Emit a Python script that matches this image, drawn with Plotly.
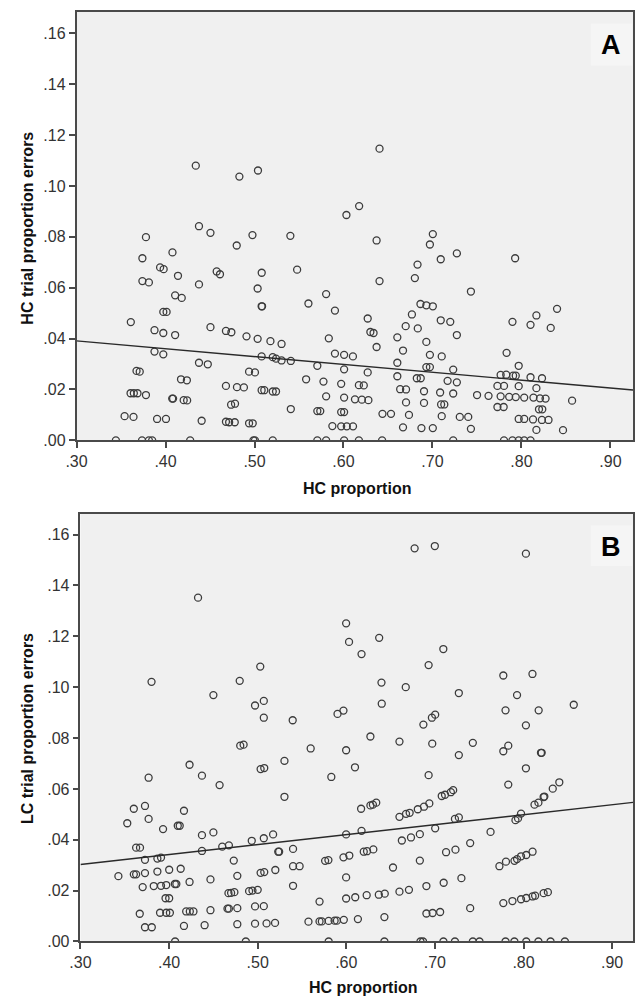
import plotly.graph_objects as go

# ---------------- data ----------------
hc_prop_A = [
    0.434, 0.483, 0.378, 0.4376, 0.4505, 0.480, 0.374, 0.4078, 0.3939, 0.3979, 0.414, 0.4575, 0.4612,
    0.374, 0.3813, 0.4376, 0.4108, 0.4182, 0.3975, 0.4012, 0.361, 0.3876, 0.3975, 0.4108, 0.4505,
    0.4679, 0.474, 0.3876, 0.3975, 0.4376, 0.4475, 0.3674, 0.371, 0.4174, 0.424, 0.3607, 0.3644,
    0.3685, 0.378, 0.4075, 0.4085, 0.4204, 0.4243, 0.4679, 0.4803, 0.4737, 0.4781, 0.354, 0.364,
    0.3905, 0.4005, 0.4406, 0.4679, 0.4715, 0.4778, 0.3442, 0.3736, 0.3813, 0.385, 0.4277,
    0.5039, 0.6405, 0.6176, 0.6033, 0.4977, 0.5403, 0.6372, 0.7004, 0.6971, 0.7093, 0.6832, 0.6802,
    0.5081, 0.5479, 0.6405, 0.5035, 0.5805, 0.7274, 0.7929, 0.7432,
    0.508, 0.5085, 0.5606, 0.5904, 0.6272, 0.6769, 0.6865, 0.6931, 0.7004, 0.7093, 0.72, 0.6699,
    0.6835, 0.6302, 0.6338, 0.6605, 0.491, 0.5035, 0.5179, 0.5304, 0.5835, 0.6372, 0.6931, 0.7104,
    0.6669, 0.6971, 0.5904, 0.6007, 0.6106, 0.508, 0.5205, 0.5242, 0.5304, 0.5408, 0.5706, 0.6007,
    0.6605, 0.6931, 0.6971, 0.4939, 0.5005, 0.6272, 0.6605, 0.6824, 0.6868, 0.4881, 0.558, 0.5775,
    0.5974, 0.6173, 0.6228, 0.6637, 0.6703, 0.6905, 0.7086, 0.508, 0.511, 0.5205, 0.5242, 0.5805,
    0.6007, 0.6129, 0.6207, 0.628, 0.6703, 0.6905, 0.7097, 0.7133, 0.5408, 0.5706, 0.5739, 0.5974,
    0.6007, 0.6438, 0.6534, 0.6736, 0.7104, 0.4939, 0.498, 0.5875, 0.5974, 0.6037, 0.6107, 0.6669,
    0.6876, 0.7004, 0.4988, 0.5005, 0.5205, 0.5706, 0.5805, 0.6007, 0.6173, 0.6434,
    0.84, 0.8168, 0.7899, 0.8102, 0.8329, 0.7274, 0.7833, 0.7969, 0.7233, 0.717, 0.7274, 0.7766,
    0.7829, 0.7906, 0.7936, 0.8102, 0.8231, 0.7233, 0.773, 0.7804, 0.7969, 0.8168, 0.7501, 0.763,
    0.7766, 0.7862, 0.7936, 0.8031, 0.8135, 0.8208, 0.8271, 0.8569, 0.773, 0.78, 0.8197, 0.8234,
    0.7307, 0.7402, 0.7969, 0.8031, 0.813, 0.823, 0.8304, 0.7432, 0.8168, 0.8467,
    0.7233, 0.7804, 0.7899, 0.7969, 0.8031, 0.8102,
]
hc_err_A = [
    0.108, 0.1037, 0.0799, 0.0842, 0.0816, 0.0766, 0.0716, 0.0739, 0.068, 0.0673, 0.0647, 0.0664, 0.0653,
    0.0626, 0.0621, 0.0613, 0.057, 0.056, 0.0505, 0.0505, 0.0465, 0.0433, 0.0422, 0.0414, 0.0445,
    0.043, 0.0425, 0.0349, 0.0338, 0.0305, 0.0299, 0.0273, 0.027, 0.024, 0.0236, 0.0185, 0.0185,
    0.0185, 0.0178, 0.0164, 0.0164, 0.0158, 0.0157, 0.0214, 0.0209, 0.014, 0.0144, 0.0095, 0.0092,
    0.0084, 0.0084, 0.0077, 0.0073, 0.0071, 0.0071, 0.0, 0.0, 0.0, 0.0, 0.0,
    0.1061, 0.1147, 0.0921, 0.0886, 0.0807, 0.0804, 0.0786, 0.0811, 0.077, 0.0712, 0.0691, 0.0638,
    0.0659, 0.0671, 0.0626, 0.0597, 0.0575, 0.0735, 0.0716, 0.0585,
    0.0527, 0.0527, 0.0538, 0.051, 0.0479, 0.0495, 0.0536, 0.0531, 0.0527, 0.0472, 0.0466, 0.0449,
    0.044, 0.0426, 0.0422, 0.0405, 0.0409, 0.0399, 0.039, 0.0379, 0.0401, 0.0367, 0.0387, 0.033,
    0.0353, 0.0336, 0.0341, 0.0336, 0.033, 0.033, 0.0327, 0.0321, 0.0314, 0.0312, 0.0293, 0.0279,
    0.0305, 0.0288, 0.0288, 0.027, 0.0267, 0.0267, 0.0252, 0.0244, 0.0244, 0.0208, 0.024, 0.0231,
    0.0222, 0.0217, 0.0216, 0.0201, 0.02, 0.0193, 0.0188, 0.0197, 0.0197, 0.0192, 0.0192, 0.0173,
    0.0168, 0.0161, 0.016, 0.0158, 0.0149, 0.0147, 0.0141, 0.0141, 0.0123, 0.0115, 0.0115, 0.0111,
    0.0111, 0.0104, 0.0104, 0.01, 0.0095, 0.0067, 0.0067, 0.0056, 0.0055, 0.0055, 0.0055, 0.0051,
    0.0048, 0.0048, 0.0, 0.0, 0.0, 0.0, 0.0, 0.0, 0.0, 0.0,
    0.0517, 0.0491, 0.0466, 0.0454, 0.0442, 0.0414, 0.0344, 0.0293, 0.0278, 0.0234, 0.0228, 0.0257,
    0.0258, 0.0254, 0.0254, 0.0248, 0.0244, 0.0184, 0.0214, 0.0214, 0.0213, 0.0205, 0.0178, 0.0175,
    0.0173, 0.0171, 0.017, 0.0168, 0.0168, 0.0165, 0.0164, 0.0156, 0.0131, 0.0131, 0.0122, 0.0122,
    0.0092, 0.0092, 0.0084, 0.0084, 0.0082, 0.008, 0.008, 0.0045, 0.0041, 0.004,
    0.0, 0.0, 0.0, 0.0, 0.0, 0.0,
]

hc_prop_B = [
    0.4327, 0.3802, 0.45, 0.4797,
    0.6771, 0.6999, 0.5998, 0.6031, 0.6371, 0.6172, 0.7095, 0.5029, 0.6929, 0.6397, 0.6671, 0.497,
    0.5069, 0.5069, 0.5395, 0.5901, 0.5968, 0.64, 0.687, 0.6966, 0.7003,
    0.8027, 0.7772, 0.8101, 0.727, 0.7927, 0.8567, 0.7797, 0.8171, 0.8027,
    0.4803, 0.4841, 0.4231, 0.4371, 0.457, 0.3769, 0.3728, 0.3602, 0.3769, 0.4168, 0.3528, 0.4098,
    0.412, 0.3932, 0.45, 0.4371, 0.3628, 0.3672, 0.46, 0.4675, 0.4371, 0.3728, 0.3868, 0.3909, 0.473,
    0.3428, 0.3602, 0.3628, 0.3728, 0.3868, 0.4001, 0.4131, 0.477, 0.3702, 0.3827, 0.3909, 0.3968,
    0.4065, 0.4082, 0.4231, 0.4467, 0.396, 0.4001, 0.467, 0.47, 0.4737, 0.3669, 0.3898, 0.3968,
    0.4009, 0.4193, 0.4234, 0.4275, 0.4467, 0.4659, 0.4675, 0.477, 0.3728, 0.3805, 0.4168, 0.4401,
    0.477, 0.4068, 0.4866,
    0.5598, 0.5998, 0.6272, 0.66, 0.697, 0.5033, 0.5074, 0.5302, 0.6098, 0.5831, 0.6929, 0.5302,
    0.6167, 0.6272, 0.63, 0.6338, 0.66, 0.6674, 0.6715, 0.6807, 0.6877, 0.6937, 0.7077, 0.7114,
    0.718, 0.7206, 0.4933, 0.5069, 0.5174, 0.5998, 0.6172, 0.7003, 0.6627, 0.673, 0.683, 0.5232,
    0.5242, 0.5399, 0.5761, 0.5798, 0.5968, 0.6034, 0.6197, 0.6234, 0.6305, 0.683, 0.7126, 0.7232,
    0.5033, 0.5074, 0.5199, 0.5399, 0.5473, 0.5998, 0.6527, 0.7099, 0.4903, 0.4941, 0.5, 0.5399,
    0.5998, 0.6101, 0.623, 0.6367, 0.6434, 0.66, 0.6707, 0.6904, 0.5698, 0.497, 0.5069, 0.497, 0.51,
    0.5196, 0.5573, 0.5698, 0.5724, 0.5801, 0.5868, 0.5894, 0.5972, 0.6131, 0.643, 0.6904, 0.6974,
    0.7059, 0.5801, 0.643, 0.6837, 0.6866, 0.7096,
    0.7428, 0.727, 0.7772, 0.7828, 0.8197, 0.8205, 0.8027, 0.7828, 0.833, 0.8404, 0.8124, 0.8168,
    0.8227, 0.8235, 0.7226, 0.727, 0.7909, 0.7938, 0.7972, 0.7628, 0.7398, 0.7728, 0.7802, 0.7898,
    0.7927, 0.7972, 0.8031, 0.8102, 0.7299, 0.7398, 0.7772, 0.7875, 0.7972, 0.8031, 0.8102, 0.8131,
    0.8227, 0.8275, 0.7226, 0.7428, 0.7503, 0.7797, 0.7897, 0.8031, 0.8168, 0.8305, 0.8467,
]
lc_err_B = [
    0.1352, 0.1021, 0.0969, 0.1025,
    0.1546, 0.1555, 0.1251, 0.1178, 0.1194, 0.113, 0.115, 0.1081, 0.1087, 0.1018, 0.1, 0.0928,
    0.0946, 0.088, 0.087, 0.0895, 0.0908, 0.0935, 0.0853, 0.088, 0.0892,
    0.1525, 0.1046, 0.1052, 0.0977, 0.0969, 0.0931, 0.0909, 0.0909, 0.085,
    0.077, 0.0774, 0.0695, 0.0652, 0.0615, 0.0644, 0.0533, 0.0522, 0.0482, 0.0514, 0.0465, 0.0455,
    0.0455, 0.0442, 0.0429, 0.0418, 0.0369, 0.0369, 0.0373, 0.0378, 0.0356, 0.0321, 0.0326, 0.033,
    0.0318, 0.0257, 0.0264, 0.0264, 0.0269, 0.0275, 0.0282, 0.0286, 0.0258, 0.0214, 0.0218, 0.0219,
    0.0222, 0.0226, 0.0226, 0.0234, 0.0244, 0.017, 0.017, 0.019, 0.0191, 0.0194, 0.0109, 0.0113,
    0.0113, 0.0113, 0.0118, 0.0118, 0.0118, 0.0123, 0.0129, 0.0129, 0.0131, 0.0056, 0.0056, 0.0061,
    0.0064, 0.0068, 0.0, 0.0,
    0.0759, 0.0752, 0.0806, 0.0786, 0.0778, 0.0678, 0.0682, 0.071, 0.0685, 0.0647, 0.0654, 0.0569,
    0.0522, 0.0535, 0.0538, 0.0546, 0.049, 0.0502, 0.0506, 0.052, 0.053, 0.0543, 0.0572, 0.0577,
    0.0587, 0.0595, 0.0396, 0.0406, 0.0421, 0.0421, 0.0435, 0.0445, 0.0397, 0.0409, 0.0422, 0.0353,
    0.0353, 0.0364, 0.0317, 0.032, 0.0331, 0.0338, 0.0353, 0.0355, 0.0362, 0.0318, 0.0351, 0.0361,
    0.027, 0.0273, 0.0281, 0.0296, 0.0296, 0.0252, 0.0291, 0.0231, 0.0198, 0.02, 0.0203, 0.0219,
    0.0169, 0.0174, 0.0182, 0.0184, 0.0188, 0.0196, 0.0203, 0.0218, 0.0157, 0.0138, 0.0139, 0.007,
    0.0071, 0.0073, 0.0078, 0.0079, 0.0079, 0.0081, 0.0082, 0.0082, 0.0085, 0.0088, 0.0096, 0.011,
    0.0112, 0.0116, 0.0, 0.0, 0.0, 0.0, 0.0,
    0.0781, 0.0733, 0.0748, 0.077, 0.0742, 0.0742, 0.0681, 0.0617, 0.0601, 0.0626, 0.0538, 0.0546,
    0.0568, 0.057, 0.0482, 0.0488, 0.0477, 0.0484, 0.0503, 0.0431, 0.0387, 0.0296, 0.0314, 0.0317,
    0.0324, 0.0335, 0.034, 0.0353, 0.0249, 0.0131, 0.0151, 0.0159, 0.0166, 0.0171, 0.0177, 0.018,
    0.019, 0.0194, 0.0, 0.0, 0.0, 0.0, 0.0, 0.0, 0.0, 0.0, 0.0,
]

# fit lines: value at x = .30 and slope
fit_A_at30 = 0.0391
fit_A_slope = -0.0309
fit_B_at30 = 0.0303
fit_B_slope = 0.0391

x_tick_vals = [0.30, 0.40, 0.50, 0.60, 0.70, 0.80, 0.90]
x_tick_text = [".30", ".40", ".50", ".60", ".70", ".80", ".90"]
y_tick_vals = [0.00, 0.02, 0.04, 0.06, 0.08, 0.10, 0.12, 0.14, 0.16]
y_tick_text = [".00", ".02", ".04", ".06", ".08", ".10", ".12", ".14", ".16"]

x_title = "HC proportion"
y_title_A = "HC trial proportion errors"
y_title_B = "LC trial proportion errors"
panel_labels = ["A", "B"]

# ---------------- layout geometry ----------------
W, H = 635, 1004
FONT = "Liberation Sans, Arial, sans-serif"

def fx(px):
    return px / W

def fy(py):
    return 1 - py / H

# pixel extents of the two plot areas
A_left, A_right, A_top, A_bot = 66.7, 633.0, 12.0, 444.3
B_left, B_right, B_top, B_bot = 70.7, 633.0, 518.3, 950.0
A_xpp, A_ypp = 905.5, 2566.0   # pixels per unit
B_xpp, B_ypp = 901.7, 2566.0

A_xr = [0.30, 0.30 + (A_right - A_left) / A_xpp]
A_yr = [0.0, (A_bot - A_top) / A_ypp]
B_xr = [0.30, 0.30 + (B_right - B_left) / B_xpp]
B_yr = [0.0, (B_bot - B_top) / B_ypp]

marker = dict(symbol="circle-open", size=7, color="#3c3c3c", line=dict(width=1.3, color="#3c3c3c"))

fig = go.Figure()
fig.add_trace(go.Scatter(x=hc_prop_A, y=hc_err_A, mode="markers", marker=marker,
                         xaxis="x", yaxis="y", showlegend=False))
fig.add_trace(go.Scatter(x=hc_prop_B, y=lc_err_B, mode="markers", marker=marker,
                         xaxis="x2", yaxis="y2", showlegend=False))

lxA = [A_xr[0], A_xr[1]]
fig.add_trace(go.Scatter(x=lxA, y=[fit_A_at30 + fit_A_slope * (v - 0.30) for v in lxA],
                         mode="lines", line=dict(color="#2a2a2a", width=1.4),
                         xaxis="x", yaxis="y", showlegend=False))
lxB = [B_xr[0], B_xr[1]]
fig.add_trace(go.Scatter(x=lxB, y=[fit_B_at30 + fit_B_slope * (v - 0.30) for v in lxB],
                         mode="lines", line=dict(color="#2a2a2a", width=1.4),
                         xaxis="x2", yaxis="y2", showlegend=False))

axis_common = dict(showline=True, mirror=True, linecolor="#4a4a4a", linewidth=1.5,
                   ticks="outside", ticklen=6, tickwidth=1.5, tickcolor="#4a4a4a",
                   showgrid=False, zeroline=False,
                   tickfont=dict(family=FONT, size=16, color="#333333"))

fig.update_layout(
    width=W, height=H,
    margin=dict(l=0, r=0, t=0, b=0),
    paper_bgcolor="white",
    plot_bgcolor="#f0f0f0",
    xaxis=dict(domain=[fx(A_left), fx(A_right)], range=A_xr, anchor="y",
               tickvals=x_tick_vals, ticktext=x_tick_text, **axis_common),
    yaxis=dict(domain=[fy(A_bot), fy(A_top)], range=A_yr, anchor="x",
               tickvals=y_tick_vals, ticktext=y_tick_text, **axis_common),
    xaxis2=dict(domain=[fx(B_left), fx(B_right)], range=B_xr, anchor="y2",
                tickvals=x_tick_vals, ticktext=x_tick_text, **axis_common),
    yaxis2=dict(domain=[fy(B_bot), fy(B_top)], range=B_yr, anchor="x2",
                tickvals=y_tick_vals, ticktext=y_tick_text, **axis_common),
)

title_font = dict(family=FONT, size=16, color="#111111")
anns = [
    dict(x=fx(352), y=fy(493), text="<b>" + x_title + "</b>", showarrow=False,
         xref="paper", yref="paper", font=title_font, xanchor="center", yanchor="middle"),
    dict(x=fx(358), y=fy(996), text="<b>" + x_title + "</b>", showarrow=False,
         xref="paper", yref="paper", font=title_font, xanchor="center", yanchor="middle"),
    dict(x=fx(17), y=fy(230), text="<b>" + y_title_A + "</b>", showarrow=False, textangle=-90,
         xref="paper", yref="paper", font=title_font, xanchor="center", yanchor="middle"),
    dict(x=fx(17), y=fy(735), text="<b>" + y_title_B + "</b>", showarrow=False, textangle=-90,
         xref="paper", yref="paper", font=title_font, xanchor="center", yanchor="middle"),
    dict(x=fx(611), y=fy(45), text="<b>" + panel_labels[0] + "</b>", showarrow=False,
         xref="paper", yref="paper", font=dict(family=FONT, size=27, color="#000000"),
         xanchor="center", yanchor="middle"),
    dict(x=fx(611), y=fy(552), text="<b>" + panel_labels[1] + "</b>", showarrow=False,
         xref="paper", yref="paper", font=dict(family=FONT, size=27, color="#000000"),
         xanchor="center", yanchor="middle"),
]
fig.update_layout(annotations=anns)

shapes = [
    dict(type="rect", xref="paper", yref="paper", x0=fx(590), x1=fx(632), y0=fy(66), y1=fy(24),
         fillcolor="#f5f5f5", line=dict(width=0), layer="below"),
    dict(type="rect", xref="paper", yref="paper", x0=fx(590), x1=fx(632), y0=fy(571), y1=fy(530),
         fillcolor="#f5f5f5", line=dict(width=0), layer="below"),
]
fig.update_layout(shapes=shapes)

fig.write_html("out.html", config={"displayModeBar": False},
               post_script="document.body.style.margin='0';document.body.style.overflow='hidden';")
